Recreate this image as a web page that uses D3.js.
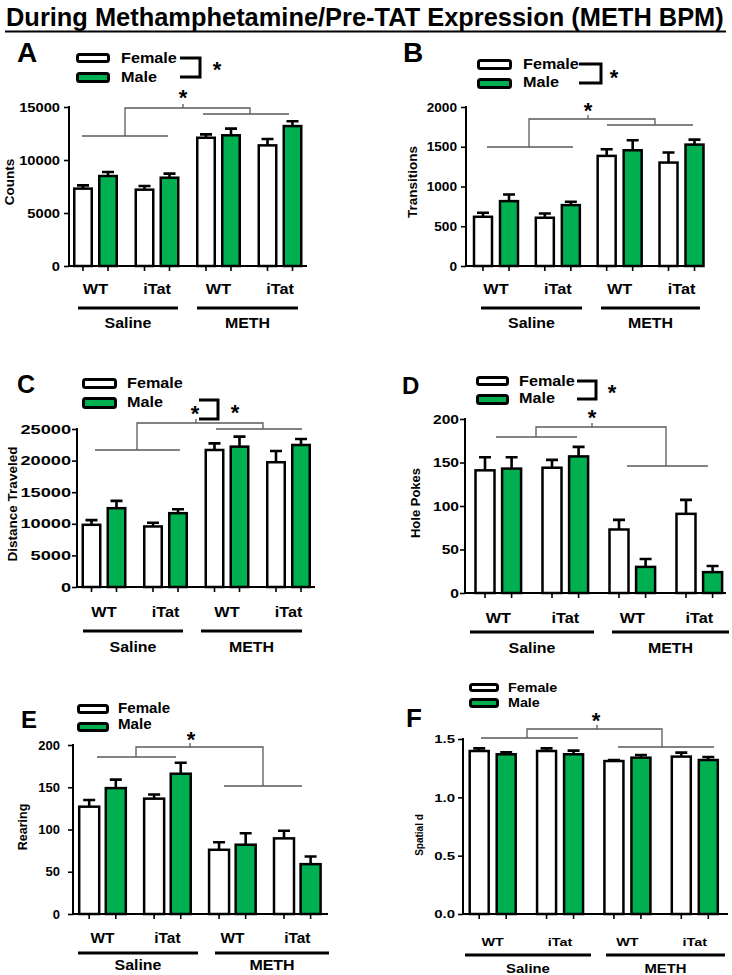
<!DOCTYPE html>
<html><head><meta charset="utf-8">
<script src="https://cdn.jsdelivr.net/npm/d3@7"></script>
<style>
body{margin:0;background:#fff}
svg{display:block}
text{font-family:"Liberation Sans",Arial,Helvetica,sans-serif;font-weight:bold;fill:#000}
</style>
</head><body>
<svg id="chart" width="732" height="975"></svg>
<script>
// ---------- data ----------
const titleText = "During Methamphetamine/Pre-TAT Expression (METH BPM)";
const categories = ["Saline WT", "Saline iTat", "METH WT", "METH iTat"];
const genotypeLabels = ["WT", "iTat", "WT", "iTat"];
const treatmentLabels = ["Saline", "METH"];
const sexLabels = ["Female", "Male"];

const countsFemale = [7300, 7200, 12100, 11380];
const countsFemaleSEM = [310, 350, 320, 600];
const countsMale = [8490, 8330, 12330, 13200];
const countsMaleSEM = [380, 380, 630, 450];
const countsTicks = [0, 5000, 10000, 15000];

const transFemale = [619, 607, 1385, 1301];
const transFemaleSEM = [50, 54, 84, 126];
const transMale = [816, 766, 1456, 1527];
const transMaleSEM = [84, 42, 126, 63];
const transTicks = [0, 500, 1000, 1500, 2000];

const distFemale = [9840, 9580, 21680, 19740];
const distFemaleSEM = [740, 580, 1050, 1790];
const distMale = [12470, 11680, 22210, 22470];
const distMaleSEM = [1160, 630, 1580, 950];
const distTicks = [0, 5000, 10000, 15000, 20000, 25000];

const holeFemale = [141, 144, 73, 91];
const holeFemaleSEM = [15, 9, 11, 16];
const holeMale = [143, 157, 30, 24];
const holeMaleSEM = [13, 11, 9, 7];
const holeTicks = [0, 50, 100, 150, 200];

const rearFemale = [127, 136.5, 76, 89.5];
const rearFemaleSEM = [8, 5, 9, 9];
const rearMale = [149, 166, 82, 59];
const rearMaleSEM = [10, 13, 13.5, 9];
const rearTicks = [0, 50, 100, 150, 200];

const spatialFemale = [1.397, 1.397, 1.311, 1.349];
const spatialFemaleSEM = [0.023, 0.023, 0.009, 0.034];
const spatialMale = [1.369, 1.369, 1.34, 1.32];
const spatialMaleSEM = [0.017, 0.031, 0.023, 0.026];
const spatialTicks = [0, 0.5, 1.0, 1.5];

// ---------- layout ----------
const GREEN = "#00b050";
const GRAY = "#5a5a5a";
const FONT = '"Liberation Sans",Arial,Helvetica,sans-serif';

const panels = [
  {letter:"A", lx:17, ly:62, ls:28, yLabel:"Counts", ylx:14, yly:182, ylf:13.5,
   female:countsFemale, femaleSEM:countsFemaleSEM, male:countsMale, maleSEM:countsMaleSEM,
   max:15000, ticks:countsTicks, fmt:d3.format("d"), tf:13, tk:1.13, tGap:8,
   axisX:69, axisEnd:307, y0:266, yTop:107, p0:95.5, p1:280, off:12.5, bw:20,
   catY:294, catF:14.5, catK:1.12, lineY:308, satL:[78,178], methL:[197,298], grpY:328, grpF:14.5, grpK:1.1,
   leg:{x1:76, x2:110, fy:[53,63], my:[72,83], tx:121, fb:63, mb:82, f:15, k:1.08},
   sex:{x1:180, x2:200, y1:58, y2:77, stars:[[217,65]]},
   br:{ly:136, lx:[82,168], lv:125, top:108, rv:250, ry:114, rx:[203,289], tick:183, star:[183,93]}},
  {letter:"B", lx:403, ly:62, ls:28, yLabel:"Transitions", ylx:417, yly:182, ylf:13.5,
   female:transFemale, femaleSEM:transFemaleSEM, male:transMale, maleSEM:transMaleSEM,
   max:2000, ticks:transTicks, fmt:d3.format("d"), tf:13, tk:1.05, tGap:8,
   axisX:466, axisEnd:704, y0:266, yTop:107, p0:496, p1:681.5, off:13, bw:20.5,
   catY:294, catF:14.5, catK:1.12, lineY:308, satL:[481,582], methL:[601,700], grpY:328, grpF:14.5, grpK:1.1,
   leg:{x1:477, x2:512, fy:[59,70], my:[78,89], tx:523, fb:69, mb:87, f:15, k:1.08},
   sex:{x1:579, x2:601, y1:64, y2:83, stars:[[614,73]]},
   br:{ly:147, lx:[487,573], lv:529, top:119, rv:655, ry:125, rx:[607,693], tick:588, star:[588,106]}},
  {letter:"C", lx:17, ly:393, ls:25, yLabel:"Distance Traveled", ylx:17, yly:504, ylf:13.5,
   female:distFemale, femaleSEM:distFemaleSEM, male:distMale, maleSEM:distMaleSEM,
   max:25000, ticks:distTicks, fmt:d3.format("d"), tf:13, tk:1.4, tGap:5,
   axisX:77, axisEnd:315, y0:587, yTop:429, p0:104, p1:288.5, off:12.5, bw:20,
   catY:617, catF:14.5, catK:1.12, lineY:631, satL:[83,183], methL:[201,302], grpY:652, grpF:14.5, grpK:1.1,
   leg:{x1:82, x2:117, fy:[378,389], my:[397,409], tx:127, fb:388, mb:407, f:15, k:1.08},
   sex:{x1:199, x2:218, y1:400, y2:419, stars:[[235,408]]},
   br:{ly:450, lx:[95,180], lv:137, top:423, rv:263, ry:429, rx:[216,302], tick:196, star:[195,409]}},
  {letter:"D", lx:402, ly:394, ls:24, yLabel:"Hole Pokes", ylx:420, yly:503, ylf:13,
   female:holeFemale, femaleSEM:holeFemaleSEM, male:holeMale, maleSEM:holeMaleSEM,
   max:200, ticks:holeTicks, fmt:d3.format("d"), tf:13, tk:1.2, tGap:5,
   axisX:465, axisEnd:726, y0:593, yTop:419, p0:498.3, p1:699.3, off:13.3, bw:21.5,
   catY:623, catF:14.5, catK:1.12, lineY:632, satL:[470,594], methL:[612,729], grpY:653, grpF:14.5, grpK:1.1,
   leg:{x1:476, x2:509, fy:[376,386], my:[394,405], tx:519, fb:386, mb:403, f:15, k:1.08},
   sex:{x1:577, x2:596, y1:381, y2:399, stars:[[612,388]]},
   br:{ly:437, lx:[496,577], lv:536, top:427, rv:666, ry:466, rx:[627,708], tick:592, star:[592,413]}},
  {letter:"E", lx:21, ly:728, ls:24, yLabel:"Rearing", ylx:27, yly:827, ylf:12.5,
   female:rearFemale, femaleSEM:rearFemaleSEM, male:rearMale, maleSEM:rearMaleSEM,
   max:200, ticks:rearTicks, fmt:d3.format("d"), tf:13, tk:1.0, tGap:12,
   axisX:73, axisEnd:328, y0:914, yTop:745, p0:102.5, p1:297.3, off:13.3, bw:22.5,
   catY:943, catF:14, catK:1.1, lineY:953, satL:[78,198], methL:[215,329], grpY:970, grpF:14.5, grpK:1.1,
   leg:{x1:77, x2:109, fy:[704,714], my:[722,732], tx:118, fb:713, mb:729, f:14, k:1.08},
   sex:null,
   br:{ly:757, lx:[97,176], lv:136, top:747, rv:263, ry:786, rx:[224,302], tick:190, star:[191,735]}},
  {letter:"F", lx:406, ly:727, ls:26, yLabel:"Spatial d", ylx:423, yly:835, ylf:10,
   female:spatialFemale, femaleSEM:spatialFemaleSEM, male:spatialMale, maleSEM:spatialMaleSEM,
   max:1.5, ticks:spatialTicks, fmt:d3.format(".1f"), tf:11.5, tk:1.3, tGap:7,
   axisX:463, axisEnd:728, y0:914, yTop:739, p0:492.7, p1:694.8, off:13.5, bw:21.5,
   catY:946, catF:11.5, catK:1.25, lineY:955, satL:[465,591], methL:[606,725], grpY:973, grpF:13.5, grpK:1.1,
   leg:{x1:469, x2:499, fy:[683,692], my:[698,708], tx:508, fb:692, mb:707, f:13, k:1.1},
   sex:null,
   br:{ly:738, lx:[481,578], lv:527, top:729, rv:662, ry:747, rx:[618,714], tick:597, star:[596,716]}}
];

const svg = d3.select("#chart");

function stretch(sel, k) {
  sel.each(function () {
    if (k && k !== 1) {
      const l = this.getComputedTextLength();
      d3.select(this).attr("textLength", l * k).attr("lengthAdjust", "spacingAndGlyphs");
    }
  });
  return sel;
}

function star(g, x, cy, size) {
  g.append("text").attr("x", x).attr("y", cy + size * 0.55)
    .attr("text-anchor", "middle").attr("font-size", size).text("*");
}

// ---------- title (condensed via a horizontal scale so its box stays on the page) ----------
const title = svg.append("text").attr("x", 0).attr("y", 0)
  .attr("font-size", 26).text(titleText);
const tw = title.node().getComputedTextLength();
title.attr("transform", `translate(6,26) scale(${(718 / tw).toFixed(4)},1)`);
svg.append("line").attr("x1", 5).attr("x2", 726).attr("y1", 31.5).attr("y2", 31.5)
  .attr("stroke", "#000").attr("stroke-width", 2);

// ---------- panels ----------
panels.forEach(p => {
  const g = svg.append("g");
  const y = d3.scaleLinear().domain([0, p.max]).range([p.y0, p.yTop]);
  const x = d3.scalePoint().domain(categories).range([p.p0, p.p1]);

  // panel letter
  g.append("text").attr("x", p.lx).attr("y", p.ly).attr("font-size", p.ls).text(p.letter);

  // y axis label
  g.append("text").attr("transform", `translate(${p.ylx},${p.yly}) rotate(-90)`)
    .attr("text-anchor", "middle").attr("font-size", p.ylf).text(p.yLabel);

  // y axis
  const yAxis = d3.axisLeft(y).tickValues(p.ticks).tickFormat(p.fmt).tickSize(5).tickPadding(p.tGap - 4);
  const ya = g.append("g").attr("transform", `translate(${p.axisX},0)`).call(yAxis);
  ya.select(".domain").remove();
  ya.selectAll(".tick line").attr("stroke", "#000").attr("stroke-width", 1.6);
  ya.selectAll(".tick text").attr("font-family", FONT).attr("font-weight", "bold")
    .attr("font-size", p.tf).attr("fill", "#000").call(s => stretch(s, p.tk));
  g.append("line").attr("x1", p.axisX).attr("x2", p.axisX).attr("y1", p.yTop - 1).attr("y2", p.y0 + 1)
    .attr("stroke", "#000").attr("stroke-width", 2);

  // bars
  const bars = [];
  categories.forEach((c, i) => {
    bars.push({c, sex: "Female", v: p.female[i], e: p.femaleSEM[i], cx: x(c) - p.off});
    bars.push({c, sex: "Male", v: p.male[i], e: p.maleSEM[i], cx: x(c) + p.off});
  });
  // error bars
  g.selectAll(".err").data(bars).enter().append("path")
    .attr("d", d => `M${d.cx},${y(d.v)}V${y(d.v + d.e)}M${d.cx - 6},${y(d.v + d.e)}H${d.cx + 6}`)
    .attr("stroke", "#000").attr("stroke-width", 2.6).attr("fill", "none");
  g.selectAll(".bar").data(bars).enter().append("rect")
    .attr("x", d => d.cx - p.bw / 2 + 1.25).attr("width", p.bw - 2.5)
    .attr("y", d => y(d.v)).attr("height", d => p.y0 - y(d.v))
    .attr("fill", d => d.sex === "Female" ? "#fff" : GREEN)
    .attr("stroke", "#000").attr("stroke-width", 2.5);

  // x axis
  g.append("line").attr("x1", p.axisX - 1).attr("x2", p.axisEnd).attr("y1", p.y0).attr("y2", p.y0)
    .attr("stroke", "#000").attr("stroke-width", 2);
  g.selectAll(".xt").data(bars).enter().append("line")
    .attr("x1", d => d.cx).attr("x2", d => d.cx).attr("y1", p.y0).attr("y2", p.y0 + 5)
    .attr("stroke", "#000").attr("stroke-width", 1.6);

  // category labels
  g.selectAll(".cat").data(categories).enter().append("text")
    .attr("x", c => x(c)).attr("y", p.catY).attr("text-anchor", "middle")
    .attr("font-size", p.catF).text((c, i) => genotypeLabels[i]).call(s => stretch(s, p.catK));

  // treatment group lines + labels
  [p.satL, p.methL].forEach((l, i) => {
    g.append("line").attr("x1", l[0]).attr("x2", l[1]).attr("y1", p.lineY).attr("y2", p.lineY)
      .attr("stroke", "#000").attr("stroke-width", 3.2);
    g.append("text").attr("x", (l[0] + l[1]) / 2).attr("y", p.grpY).attr("text-anchor", "middle")
      .attr("font-size", p.grpF).text(treatmentLabels[i]).call(s => stretch(s, p.grpK));
  });

  // legend
  const L = p.leg;
  [[L.fy, "#fff", sexLabels[0], L.fb], [L.my, GREEN, sexLabels[1], L.mb]].forEach(([yy, fill, lab, base]) => {
    g.append("rect").attr("x", L.x1 + 1.5).attr("y", yy[0] + 1.5)
      .attr("width", L.x2 - L.x1 - 3).attr("height", yy[1] - yy[0] - 3).attr("rx", 2)
      .attr("fill", fill).attr("stroke", "#000").attr("stroke-width", 3);
    g.append("text").attr("x", L.tx).attr("y", base).attr("font-size", L.f).text(lab)
      .call(s => stretch(s, L.k));
  });

  // sex bracket
  if (p.sex) {
    const s = p.sex;
    g.append("path").attr("d", `M${s.x1},${s.y1}H${s.x2}V${s.y2}H${s.x1}`)
      .attr("fill", "none").attr("stroke", "#000").attr("stroke-width", 3);
    s.stars.forEach(st => star(g, st[0], st[1], 22));
  }

  // treatment significance bracket
  const b = p.br;
  g.append("path")
    .attr("d", `M${b.lx[0]},${b.ly}H${b.lx[1]}M${b.lv},${b.ly}V${b.top}H${b.rv}V${b.ry}M${b.rx[0]},${b.ry}H${b.rx[1]}M${b.tick},${b.top}V${b.top - 4}`)
    .attr("fill", "none").attr("stroke", GRAY).attr("stroke-width", 1.3);
  star(g, b.star[0], b.star[1], 22);
});
</script>
</body></html>
